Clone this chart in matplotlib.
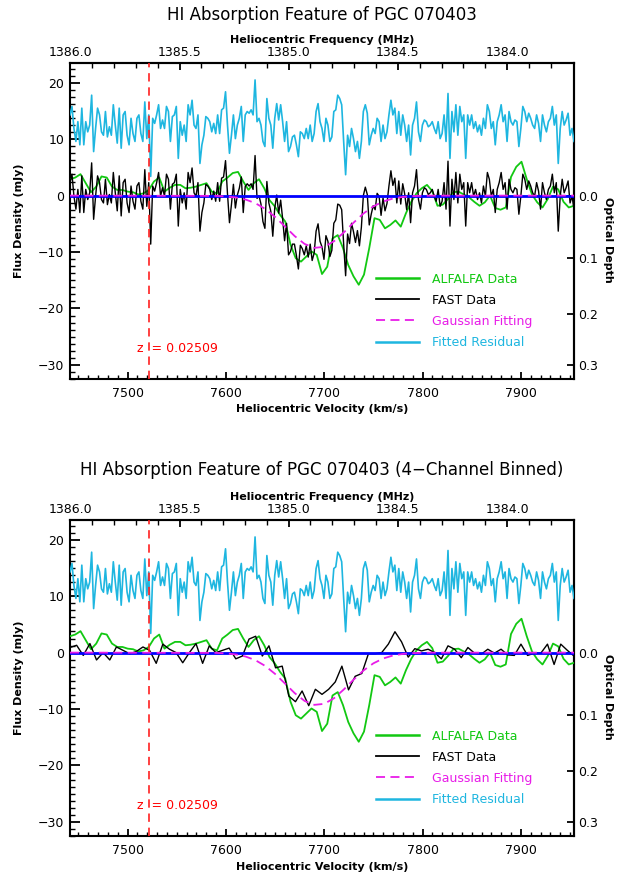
import numpy as np
import matplotlib
matplotlib.use("Agg")
import matplotlib.pyplot as plt
from matplotlib.ticker import MultipleLocator, FixedLocator, FormatStrFormatter, NullLocator
from matplotlib.lines import Line2D

C_KMS = 299792.458
F0_MHZ = 1420.405752
Z_OPT = 0.02509
S_CONT = 115.5          # continuum (mJy) used for the optical depth axis
V_LO, V_HI = 7441.5, 7954.0

# fitted residual, shifted up by 12 mJy (FAST channels)
resid = [
    14.3, 15.8, 11.9, 9.6, 13.1, 9.0, 15.5, 9.0, 13.1, 11.3,
    12.5, 17.8, 7.8, 11.9, 15.5, 14.3, 11.3, 10.7, 14.9, 10.4,
    12.2, 10.7, 16.1, 12.5, 9.3, 15.5, 8.4, 14.3, 14.9, 10.7,
    9.0, 13.7, 11.0, 9.6, 13.7, 14.3, 11.0, 9.6, 16.6, 10.1,
    14.3, 3.4, 13.7, 12.8, 14.3, 16.1, 11.9, 13.4, 11.9, 15.8,
    14.9, 9.6, 14.0, 14.3, 15.8, 6.6, 13.1, 10.7, 12.5, 9.6,
    16.1, 14.3, 16.9, 12.5, 11.9, 14.3, 5.7, 9.0, 10.7, 14.0,
    13.7, 13.1, 11.3, 12.8, 11.0, 14.3, 11.0, 15.2, 15.5, 18.4,
    12.5, 7.5, 10.7, 14.3, 10.1, 12.5,
    13.7, 15.8, 9.6, 14.3, 14.9, 14.6, 15.2, 14.3, 20.5, 13.1,
    13.7, 12.5, 9.6, 8.7, 17.2, 13.7, 12.5, 8.4, 13.7, 16.3,
    13.4, 16.1, 13.1, 9.6, 13.1, 7.8, 8.7, 10.4, 10.7, 9.0,
    6.9, 11.3, 11.0, 10.1, 11.9, 10.1, 12.5, 9.6, 11.0, 14.9,
    16.3, 13.1, 11.9, 9.6, 13.7, 12.5, 9.6, 10.4, 14.9, 15.2,
    17.8, 17.2, 16.1, 9.6, 3.7, 10.7, 8.7, 11.9, 10.1, 7.8,
    9.6, 6.6, 9.6, 14.9, 16.1, 14.6, 9.0, 10.7, 11.9, 11.0,
    13.7, 13.1, 9.6, 12.5, 10.1, 11.3, 14.3, 16.9, 14.3, 15.5,
    11.0, 14.9, 10.7, 14.3, 12.5, 9.6,
    12.5, 7.2, 12.5, 13.7, 16.6, 11.3, 9.6, 12.5, 13.4, 13.1,
    12.2, 12.5, 13.1, 11.9, 11.0, 13.1, 10.1, 11.0, 14.3, 9.6,
    18.1, 6.6, 14.9, 11.3, 16.1, 10.7, 15.8, 13.1, 14.3, 6.6,
    14.3, 12.5, 14.3, 11.9, 13.1, 11.3, 12.5, 10.7, 13.7, 11.9,
    16.1, 14.9, 11.9, 13.1, 9.0, 13.1, 14.3, 16.1, 13.1, 14.3,
    9.6, 14.9, 13.1, 12.5, 13.4, 13.1, 8.7, 11.9, 15.8, 14.9,
    13.1, 14.6, 13.7, 12.5, 11.9, 14.3, 12.8, 9.6, 14.3, 12.5,
    11.3, 13.1, 13.7, 15.8, 12.5, 14.3, 5.7, 11.9, 14.9, 12.5,
    13.4, 14.6, 10.7, 11.9, 9.6,
]

# FAST spectrum (mJy), same channels as the residual
fast = [
    2.3, 3.8, -0.1, -2.4, 1.1, -3.0, 3.5, -3.0, 1.1, -0.7,
    0.5, 5.8, -4.2, -0.1, 3.5, 2.3, -0.7, -1.3, 2.9, -1.6,
    0.2, -1.3, 4.1, 0.5, -2.7, 3.5, -3.6, 2.3, 2.9, -1.3,
    -3.0, 1.7, -1.0, -2.4, 1.7, 2.3, -1.0, -2.4, 4.6, -1.9,
    2.3, -8.6, 1.7, 0.8, 2.3, 4.1, -0.1, 1.4, -0.1, 3.8,
    2.9, -2.4, 2.0, 2.3, 3.8, -5.4, 1.1, -1.3, 0.5, -2.4,
    4.1, 2.3, 4.9, 0.5, -0.1, 2.3, -6.3, -3.0, -1.3, 2.0,
    1.7, 1.1, -0.7, 0.8, -1.0, 2.3, -1.0, 3.1, 3.3, 6.2,
    0.3, -4.8, -1.6, 2.0, -2.2, 0.1,
    1.3, 3.3, -3.0, 1.6, 2.1, 1.7, 2.1, 1.1, 7.1, -0.5,
    0.0, -1.5, -4.6, -5.8, 2.5, -1.3, -2.8, -7.2, -2.2, 0.1,
    -3.1, -0.8, -4.1, -8.0, -4.9, -10.5, -9.9, -8.6, -8.6, -10.6,
    -13.0, -8.8, -9.4, -10.5, -8.9, -10.9, -8.6, -11.5, -10.2, -6.3,
    -5.0, -8.1, -9.1, -11.3, -7.1, -8.1, -10.8, -9.7, -4.9, -4.3,
    -1.5, -1.7, -2.5, -8.6, -14.2, -6.8, -8.5, -4.9, -6.4, -8.3,
    -6.2, -8.9, -5.6, 0.0, 1.5, 0.2, -5.2, -3.3, -1.8, -2.5,
    0.4, -0.1, -3.5, -0.4, -2.7, -1.4, 1.7, 4.4, 1.8, 3.1,
    -1.3, 2.6, -1.5, 2.1, 0.3, -2.5,
    0.5, -4.8, 0.5, 1.7, 4.6, -0.7, -2.4, 0.5, 1.4, 1.1,
    0.2, 0.5, 1.1, -0.1, -1.0, 1.1, -1.9, -1.0, 2.3, -2.4,
    6.1, -5.4, 2.9, -0.7, 4.1, -1.3, 3.8, 1.1, 2.3, -5.4,
    2.3, 0.5, 2.3, -0.1, 1.1, -0.7, 0.5, -1.3, 1.7, -0.1,
    4.1, 2.9, -0.1, 1.1, -3.0, 1.1, 2.3, 4.1, 1.1, 2.3,
    -2.4, 2.9, 1.1, 0.5, 1.4, 1.1, -3.3, -0.1, 3.8, 2.9,
    1.1, 2.6, 1.7, 0.5, -0.1, 2.3, 0.8, -2.4, 2.3, 0.5,
    -0.7, 1.1, 1.7, 3.8, 0.5, 2.3, -6.3, -0.1, 2.9, 0.5,
    1.4, 2.6, -1.3, -0.1, -2.4,
]

# FAST spectrum, 4-channel binned (mJy)
fast_bin = [
    0.9, 1.3, -0.5, 1.6, -1.3, 0.0, -1.3, 1.0, 0.4, -0.2,
    0.2, 1.0, 0.4, -1.9, 1.5, 0.6, 0.0, -1.8, 0.0, 1.6,
    -1.9, 1.2, 0.0, 0.4, 0.8, -1.1, -0.6, 2.4, 2.9, -0.6,
    1.2, -2.7, -2.4, -7.7, -8.7, -6.8, -9.4, -6.5, -7.4,
    -6.5, -5.2, -2.4, -6.6, -4.2, -3.7, -0.2, -0.2, 0.0, 1.5,
    3.7, 1.9, -0.8, 0.7, 0.3, 0.6, 0.0, -1.1, 1.2, 0.6,
    -0.9, 0.9, -0.1, -0.3, 0.6, -0.1, 0.6, -0.4, -0.5, 1.5,
    -0.5, -0.1, -0.1, 1.5, -2.1, 1.5, 0.4, -0.6,
]

# ALFALFA spectrum (mJy)
alfalfa = [
    2.9, 3.2, 3.8, 2.2, 0.6, 1.6, 3.4, 3.2, 1.6, 1.0,
    1.0, 0.7, 0.6, 0.2, 0.4, 1.0, 2.5, 3.2, 0.7, 1.4,
    1.9, 1.9, 1.3, 1.4, 1.6, 1.9, 2.2, 0.7, 0.4, 2.5,
    3.2, 4.0, 4.2,
    2.5, 1.0, 2.2, 2.9, 1.3, -0.8, -1.9, -3.4, -4.6, -8.7,
    -11.1, -11.7, -10.8, -9.9, -10.5, -13.9, -12.6, -7.6, -7.0, -9.3,
    -12.3, -14.3, -15.8, -14.0, -9.3, -4.0, -4.3, -5.8, -5.2, -4.4,
    -5.5, -3.1,
    -1.1, 0.4, 1.3, 1.9, 0.8, -1.8, -1.6, -0.6, 0.6, 0.7,
    0.2, -0.3, -1.1, -1.8, -1.2, 0.0, -2.2, -2.5, -2.1, 3.3,
    5.1, 6.0, 2.9, 0.2, -1.2, -2.1, -0.6, 1.6, 1.1, -1.1,
    -2.1, -1.8,
]

# gaussian fit, sampled (km/s, mJy)
gauss_v = [7441.5, 7590, 7600, 7610, 7620, 7630, 7640, 7650, 7660, 7670,
           7680, 7690, 7700, 7710, 7720, 7730, 7740, 7750, 7760, 7770,
           7780, 7790, 7800, 7810, 7954]
gauss_s = [0.0, -0.05, -0.14, -0.32, -0.69, -1.34, -2.36, -3.77, -5.46, -7.18,
           -8.56, -9.26, -9.08, -8.08, -6.52, -4.77, -3.16, -1.90, -1.04, -0.51,
           -0.23, -0.09, -0.03, -0.01, 0.0]

# axis ticks
freq_major = [1386.0, 1385.5, 1385.0, 1384.5, 1384.0]
freq_minor = [1385.9, 1385.8, 1385.7, 1385.6, 1385.4, 1385.3, 1385.2, 1385.1,
              1384.9, 1384.8, 1384.7, 1384.6, 1384.4, 1384.3, 1384.2, 1384.1,
              1383.9, 1383.8]
tau_ticks = [0.0, 0.1, 0.2, 0.3]

v_fast = np.linspace(V_LO, V_HI, len(fast))
v_bin = np.linspace(V_LO, V_HI, len(fast_bin))
v_alf = np.linspace(V_LO, V_HI, len(alfalfa))

GREEN = "#12c812"
CYAN = "#1eb6e0"
MAGENTA = "#e81ce8"
FS = 9


def v2f(v):
    return F0_MHZ / (1.0 + np.asarray(v, float) / C_KMS)


def f2v(f):
    f = np.asarray(f, float)
    with np.errstate(divide="ignore", invalid="ignore"):
        return C_KMS * (F0_MHZ / f - 1.0)


def s2tau(s):
    s = np.asarray(s, float)
    return -np.log(np.clip(1.0 + s / S_CONT, 1e-6, None))


def tau2s(t):
    return S_CONT * (np.exp(-np.asarray(t, float)) - 1.0)


def rysuj_panel(ax, vv, ss, tytul, y_tytul):
    ax.plot(v_alf, alfalfa, color=GREEN, lw=1.3, zorder=3)
    ax.plot(vv, ss, color="black", lw=1.0, zorder=4)
    ax.axhline(0, color="blue", lw=2.0, zorder=5)
    ax.plot(gauss_v, gauss_s, color=MAGENTA, lw=1.3, dashes=(5, 3), zorder=6)
    ax.plot(v_fast, resid, color=CYAN, lw=1.2, zorder=3)
    ax.axvline(C_KMS * Z_OPT, color="#ff2020", lw=1.2, dashes=(5, 3.5), zorder=7)

    ax.text(C_KMS * Z_OPT - 12, -27.1, "z  = 0.02509", color="red",
            fontsize=FS, va="center", ha="left")

    ax.set_xlim(V_LO, V_HI)
    ax.set_ylim(-32.5, 23.5)

    for sp in ax.spines.values():
        sp.set_linewidth(1.5)

    ax.xaxis.set_major_locator(MultipleLocator(100))
    ax.xaxis.set_minor_locator(MultipleLocator(10))
    ax.yaxis.set_major_locator(MultipleLocator(10))
    ax.yaxis.set_minor_locator(MultipleLocator(1.25))
    ax.tick_params(axis="x", which="major", direction="in", length=5, width=1.3,
                   labelsize=FS, pad=6, top=False)
    ax.tick_params(axis="x", which="minor", direction="in", length=2.8, width=1.0, top=False)
    ax.tick_params(axis="y", which="major", direction="in", length=7, width=1.3,
                   labelsize=FS, pad=4, right=False)
    ax.tick_params(axis="y", which="minor", direction="in", length=3.5, width=1.0, right=False)

    ax.set_xlabel("Heliocentric Velocity (km/s)", fontsize=8, fontweight="bold", labelpad=3)
    ax.set_ylabel("Flux Density (mJy)", fontsize=8, fontweight="bold")
    ax.yaxis.set_label_coords(-0.092, 0.5)

    gora = ax.secondary_xaxis("top", functions=(v2f, f2v))
    gora.xaxis.set_major_locator(FixedLocator(freq_major))
    gora.xaxis.set_minor_locator(FixedLocator(freq_minor))
    gora.xaxis.set_major_formatter(FormatStrFormatter("%.1f"))
    gora.tick_params(which="major", direction="in", length=5, width=1.3, labelsize=FS, pad=3)
    gora.tick_params(which="minor", direction="in", length=3.5, width=1.0)
    gora.set_xlabel("Heliocentric Frequency (MHz)", fontsize=8, fontweight="bold", labelpad=2)
    gora.spines["top"].set_linewidth(1.5)

    prawa = ax.secondary_yaxis("right", functions=(s2tau, tau2s))
    prawa.yaxis.set_major_locator(FixedLocator(tau_ticks))
    prawa.yaxis.set_major_formatter(FormatStrFormatter("%.1f"))
    prawa.yaxis.set_minor_locator(NullLocator())
    prawa.tick_params(which="major", direction="in", length=5, width=1.3, labelsize=FS, pad=3)
    prawa.spines["right"].set_linewidth(1.5)
    ax.text(1.068, 0.44, "Optical Depth", transform=ax.transAxes, rotation=270,
            ha="center", va="center", fontsize=8, fontweight="bold")

    uchwyty = [Line2D([], [], color=GREEN, lw=1.8),
               Line2D([], [], color="black", lw=1.3),
               Line2D([], [], color=MAGENTA, lw=1.3, dashes=(5, 3)),
               Line2D([], [], color=CYAN, lw=1.8)]
    etykiety = ["ALFALFA Data", "FAST Data", "Gaussian Fitting", "Fitted Residual"]
    ax.legend(uchwyty, etykiety, loc="upper left", bbox_to_anchor=(0.608, 0.337),
              frameon=False, fontsize=FS, handlelength=3.4, handletextpad=1.05,
              labelspacing=0.65, borderpad=0, borderaxespad=0,
              labelcolor=[GREEN, "black", MAGENTA, CYAN])

    ax.figure.text(322 / 629, y_tytul, tytul, ha="center", va="center", fontsize=12)


fig = plt.figure(figsize=(6.29, 8.77), dpi=100)
ax1 = fig.add_axes([70 / 629, 1 - 379 / 877, 504 / 629, 316 / 877])
ax2 = fig.add_axes([70 / 629, 1 - 836 / 877, 504 / 629, 316 / 877])

rysuj_panel(ax1, v_fast, fast, "HI Absorption Feature of PGC 070403", 1 - 15 / 877)
rysuj_panel(ax2, v_bin, fast_bin,
            "HI Absorption Feature of PGC 070403 (4\u2212Channel Binned)", 1 - 470 / 877)

fig.savefig("out.png", dpi=100)
